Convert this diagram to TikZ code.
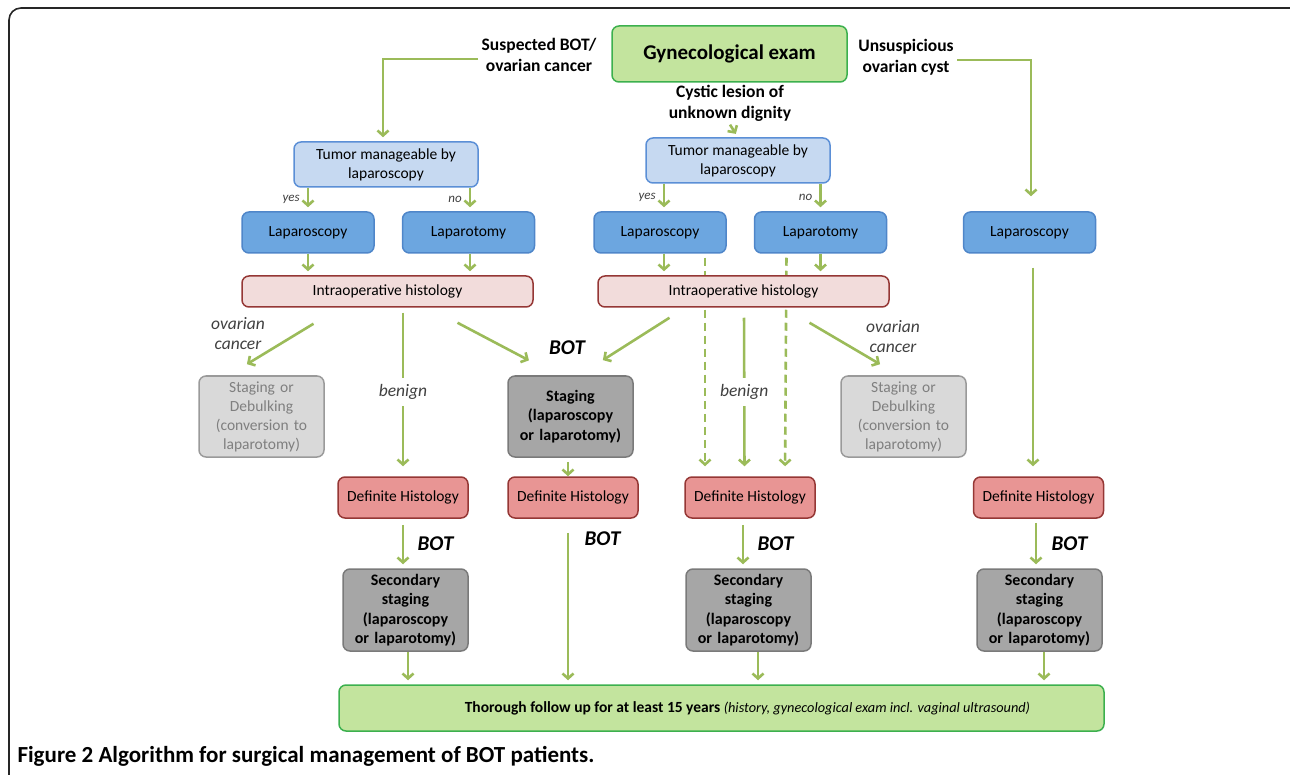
\documentclass[tikz,border=0pt]{standalone}
\usepackage{fontspec}
\setmainfont{Carlito}
\usepackage{xcolor}
\usepackage{tikz}
\usetikzlibrary{positioning,arrows.meta,backgrounds}

\definecolor{arrowgreen}{HTML}{9BBB59}
\definecolor{examfill}{HTML}{C3E49E}
\definecolor{examline}{HTML}{3CB04E}
\definecolor{tumorfill}{HTML}{C6D9F1}
\definecolor{tumorline}{HTML}{5B8FD6}
\definecolor{surgfill}{HTML}{6CA6E0}
\definecolor{surgline}{HTML}{4F86C9}
\definecolor{intrafill}{HTML}{F2DCDB}
\definecolor{histline}{HTML}{953735}
\definecolor{deffill}{HTML}{E89594}
\definecolor{lightfill}{HTML}{D9D9D9}
\definecolor{lightline}{HTML}{9A9A9A}
\definecolor{lighttext}{HTML}{7F7F7F}
\definecolor{darkfill}{HTML}{A6A6A6}
\definecolor{darkline}{HTML}{7A7A7A}

\begin{document}
\begin{tikzpicture}[x=1pt, y=-1pt,
        every node/.style={font=\fontsize{15.5}{19}\selectfont},
        base/.style={rectangle, rounded corners=7pt, line width=1.5pt, align=center, inner sep=2pt},
        exambox/.style={base, draw=examline, fill=examfill},
        tumor/.style={base, draw=tumorline, fill=tumorfill, minimum width=184pt, minimum height=45pt},
        surgery/.style={base, draw=surgline, fill=surgfill, minimum width=132pt, minimum height=41pt},
        intraop/.style={base, draw=histline, fill=intrafill, minimum width=291pt, minimum height=31pt},
        defhist/.style={base, draw=histline, fill=deffill, minimum width=130pt, minimum height=41pt},
        cancerbox/.style={base, draw=lightline, fill=lightfill, text=lighttext, text width=121pt, minimum height=81pt},
        stagebox/.style={base, draw=darkline, fill=darkfill, text width=121pt, minimum height=81pt,
            font=\fontsize{16}{19.5}\selectfont\bfseries},
        cond/.style={align=center, font=\fontsize{17.5}{21}\selectfont\bfseries},
        branch/.style={align=center, text=black!75, font=\fontsize{17.5}{20}\selectfont\itshape},
        answer/.style={text=black!75, font=\fontsize{13}{14}\selectfont\itshape, inner xsep=7pt, inner ysep=2pt},
        botlabel/.style={text=black, font=\fontsize{21}{23}\selectfont\bfseries\itshape},
        arrow/.style={line width=2.6pt, arrowgreen, -{Straight Barb[length=5pt,width=11pt]}, shorten >=4pt},
        dasharrow/.style={arrow, dash pattern=on 8pt off 5pt}
    ]
    \clip (0,0) rectangle (1290,775);
    \useasboundingbox (0,0) rectangle (1290,775);
    \draw[line width=1.6pt, black!85, rounded corners=12pt] (9,8) rectangle (1330,810);

    \node[exambox, minimum width=235pt, minimum height=56pt, font=\fontsize{21}{24}\selectfont\bfseries] (exam) at (729.5,54) {Gynecological exam};
    \node[cond] (suspect) at (539,55) {Suspected BOT/\\ovarian cancer};
    \node[cond] (unsusp) at (906,57) {Unsuspicious\\ovarian cyst};
    \node[cond] (cystic) at (730,103) {Cystic lesion of\\unknown dignity};

    \node[tumor] (tumorA) at (386,164.5) {Tumor manageable by\\laparoscopy};
    \node[tumor] (tumorB) at (738,160.5) {Tumor manageable by\\laparoscopy};

    \node[surgery] (scopyA) at (308,232.5) {Laparoscopy};
    \node[surgery, right=27pt of scopyA] (tomyA) {Laparotomy};
    \node[surgery] (scopyB) at (660,232.5) {Laparoscopy};
    \node[surgery, right=27pt of scopyB] (tomyB) {Laparotomy};
    \node[surgery] (scopyC) at (1029.5,232.5) {Laparoscopy};

    \node[intraop] (intraA) at (387.5,291.5) {Intraoperative histology};
    \node[intraop] (intraB) at (743.5,291.5) {Intraoperative histology};

    \node[cancerbox] (cancerA) at (261.5,416.5) {Staging or\\Debulking\\(conversion to\\laparotomy)};
    \node[stagebox] (staging) at (570.5,416.5) {Staging\\(laparoscopy\\or laparotomy)};
    \node[cancerbox] (cancerB) at (903.5,416.5) {Staging or\\Debulking\\(conversion to\\laparotomy)};

    \node[defhist] (defA) at (403,497.5) {Definite Histology};
    \node[defhist] (defM) at (573,497.5) {Definite Histology};
    \node[defhist] (defB) at (750,497.5) {Definite Histology};
    \node[defhist] (defC) at (1038.5,497.5) {Definite Histology};

    \node[stagebox, minimum height=82pt] (secA) at (405.5,610) {Secondary\\staging\\(laparoscopy\\or laparotomy)};
    \node[stagebox, minimum height=82pt] (secB) at (748.5,610) {Secondary\\staging\\(laparoscopy\\or laparotomy)};
    \node[stagebox, minimum height=82pt] (secC) at (1039.5,610) {Secondary\\staging\\(laparoscopy\\or laparotomy)};

    \node[exambox, minimum width=765pt, minimum height=46pt, font=\fontsize{15.5}{17}\selectfont\bfseries] (followup) at (721.5,708)
        {\hspace*{52pt}Thorough follow up for at least 15 years {\fontsize{14.3}{15}\selectfont\mdseries\itshape (history, gynecological exam incl. vaginal ultrasound)}};

    \node[anchor=west, font=\fontsize{23}{26}\selectfont\bfseries] (caption) at (14,756) {Figure 2 Algorithm for surgical management of BOT patients.};

    \draw[arrow] ([yshift=-4pt]suspect.west) -| ([xshift=-3pt]tumorA.north);
    \draw[arrow] ([yshift=-3pt]unsusp.east) -| ([xshift=1.5pt]scopyC.north) [shorten >=15pt];
    \draw[arrow] (cystic.south) -- (tumorB.north);

    \draw[arrow] (tumorA.south -| scopyA) -- (scopyA) node[midway, answer, left] {yes};
    \draw[arrow] ([xshift=1.5pt]tumorA.south -| tomyA) -- ([xshift=1.5pt]tomyA.north) node[midway, answer, left] {no};
    \draw[arrow] ([xshift=4pt]tumorB.south -| scopyB) -- ([xshift=4pt]scopyB.north) node[midway, answer, left] {yes};
    \draw[arrow] (tumorB.south -| tomyB) -- (tomyB) node[midway, answer, left] {no};

    \draw[arrow] (scopyA) -- (scopyA |- intraA.north);
    \draw[arrow] ([xshift=1.5pt]tomyA.south) -- ([xshift=1.5pt]tomyA.south |- intraA.north);
    \draw[arrow] ([xshift=4pt]scopyB.south) -- ([xshift=4pt]scopyB.south |- intraB.north);
    \draw[arrow] (tomyB) -- (tomyB |- intraB.north);

    \begin{pgfonlayer}{background}
        \draw[dasharrow, shorten <=4pt] ([xshift=45pt]scopyB.south) -- ([xshift=-45pt]defB.north) [shorten >=10pt];
        \draw[dasharrow, shorten <=4pt] ([xshift=-34pt]tomyB.south) -- ([xshift=35pt]defB.north) [shorten >=10pt];
    \end{pgfonlayer}

    \draw[arrow] ([shift={(-74,16)}]intraA.south) -- ([shift={(-18,-9)}]cancerA.north);
    \draw[arrow, shorten <=5pt, shorten >=10pt] (intraA.south -| defA) -- (defA) node[midway, branch, fill=white, inner ysep=6pt] {benign};
    \draw[arrow] ([shift={(70,15)}]intraA.south) -- ([shift={(-38,-13)}]staging.north);
    \draw[arrow] ([shift={(-74,10)}]intraB.south) -- ([shift={(29,-13)}]staging.north);
    \draw[arrow, shorten <=10pt, shorten >=10pt] ([xshift=0.5pt]intraB.south) -- ([xshift=-5.5pt]defB.north) node[midway, branch, fill=white, inner ysep=6pt] {benign};
    \draw[arrow] ([shift={(66,15)}]intraB.south) -- ([shift={(-20,-9)}]cancerB.north);
    \node[branch] (ovarA) at (238,334) {ovarian\\cancer};
    \node[branch] (ovarB) at (893,337) {ovarian\\cancer};
    \node[botlabel] (botA) at (567,348) {BOT};

    \draw[arrow, shorten <=14pt, shorten >=10pt] ([xshift=3.5pt]scopyC.south) -- ([xshift=-5.5pt]defC.north);
    \draw[arrow, shorten <=4pt, shorten >=0pt] ([xshift=-2.5pt]staging.south) -- ([xshift=-5pt]defM.north);

    \draw[arrow, shorten <=6pt] (defA) -- (defA |- secA.north) node[midway, botlabel, right=10pt] {BOT};
    \draw[arrow, shorten <=14pt] ([xshift=-5pt]defM.south) -- ([xshift=-5pt]defM.south |- followup.north) node[pos=0.12, botlabel, right=12pt] {BOT};
    \draw[arrow, shorten <=6pt] ([xshift=-7pt]defB.south) -- ([xshift=-7pt]defB.south |- secB.north) node[midway, botlabel, right=10pt] {BOT};
    \draw[arrow, shorten <=4pt] ([xshift=-2.5pt]defC.south) -- ([xshift=-2.5pt]defC.south |- secC.north) node[midway, botlabel, right=11pt] {BOT};

    \draw[arrow] ([xshift=2.5pt]secA.south) -- ([xshift=2.5pt]secA.south |- followup.north);
    \draw[arrow] ([xshift=9.5pt]secB.south) -- ([xshift=9.5pt]secB.south |- followup.north);
    \draw[arrow] ([xshift=4.5pt]secC.south) -- ([xshift=4.5pt]secC.south |- followup.north);
\end{tikzpicture}
\end{document}
